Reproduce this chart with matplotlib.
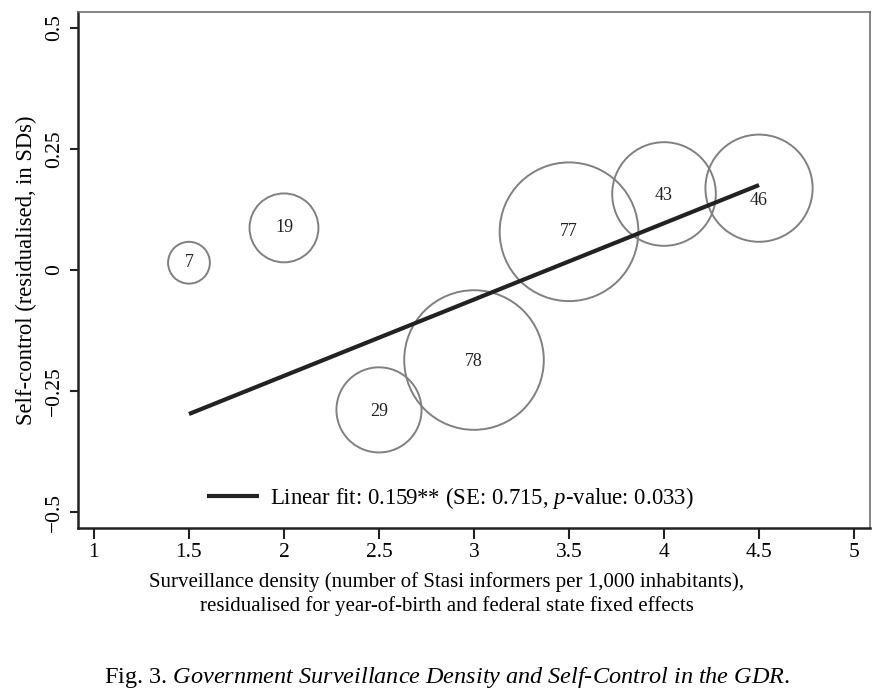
import matplotlib
matplotlib.use("Agg")
import matplotlib.pyplot as plt
import numpy as np

# Data
density = [1.5, 2.0, 2.5, 3.0, 3.5, 4.0, 4.5]
selfcontrol = [0.015, 0.087, -0.289, -0.186, 0.079, 0.157, 0.169]
counts = [7, 19, 29, 78, 77, 43, 46]
fit_x = [1.5, 4.5]
fit_y = [-0.2975, 0.1755]
xticks = [1, 1.5, 2, 2.5, 3, 3.5, 4, 4.5, 5]
xticklabels = ["1", "1.5", "2", "2.5", "3", "3.5", "4", "4.5", "5"]
yticks = [-0.5, -0.25, 0, 0.25, 0.5]
yticklabels = ["\u22120.5", "\u22120.25", "0", "0.25", "0.5"]

plt.rcParams['font.family'] = ['Liberation Serif', 'DejaVu Serif']
plt.rcParams['mathtext.fontset'] = 'custom'
plt.rcParams['mathtext.rm'] = 'Liberation Serif'
plt.rcParams['mathtext.it'] = 'Liberation Serif:italic'

fig = plt.figure(figsize=(8.9, 6.92), dpi=100)
ax = fig.add_axes([78/890, 1 - 528/692, (870-78)/890, (528-12)/692])

ax.set_xlim(0.916, 5.084)
ax.set_ylim(-0.533, 0.533)

sizes = [129.5 * c for c in counts]
ax.scatter(density, selfcontrol, s=sizes, facecolors='none', edgecolors='#808080', linewidths=1.4, zorder=2)
# label offsets in points (the last label sits below the fit line end)
label_dy = [0, 0, -1, -1, 0, -1, -8.5]
for x, y, c, dy in zip(density, selfcontrol, counts, label_dy):
    ax.annotate(str(c), (x, y), xytext=(0, dy), textcoords='offset points',
                ha='center', va='center', fontsize=13, color='#222222', zorder=3)

line, = ax.plot(fit_x, fit_y, color='#222222', linewidth=3, solid_capstyle='butt', zorder=4,
                label=r'Linear fit: 0.159** (SE: 0.715, $\mathit{p}$-value: 0.033)')

leg = ax.legend(loc='lower center', bbox_to_anchor=(0.5 - 0.03, -0.012), frameon=False, fontsize=16.4,
                handlelength=2.3, handletextpad=0.45, borderaxespad=0.6)

ax.set_xticks(xticks)
ax.set_xticklabels(xticklabels, fontsize=15.5)
ax.set_yticks(yticks)
ax.set_yticklabels(yticklabels, fontsize=15.5, rotation=90, va='center')
ax.tick_params(axis='x', direction='out', length=8, width=1.5, color='#222222', pad=3)
ax.tick_params(axis='y', direction='out', length=6, width=1.5, color='#222222', pad=4)

for s in ['left', 'bottom']:
    ax.spines[s].set_linewidth(1.8)
    ax.spines[s].set_color('#222222')
for s in ['top', 'right']:
    ax.spines[s].set_linewidth(1.2)
    ax.spines[s].set_color('#707070')

ax.set_ylabel('Self-control (residualised, in SDs)', fontsize=16.3, labelpad=6)

fig.text(0.502, 1 - 582/692, 'Surveillance density (number of Stasi informers per 1,000 inhabitants),',
         ha='center', va='center', fontsize=15)
fig.text(0.502, 1 - 606/692, 'residualised for year-of-birth and federal state fixed effects',
         ha='center', va='center', fontsize=15)
fig.text(0.502, 1 - 678/692, r'Fig. 3. $\mathit{Government\ Surveillance\ Density\ and\ Self\text{-}Control\ in\ the\ GDR.}$',
         ha='center', va='center', fontsize=17.5)

fig.savefig('out.png', dpi=100)
